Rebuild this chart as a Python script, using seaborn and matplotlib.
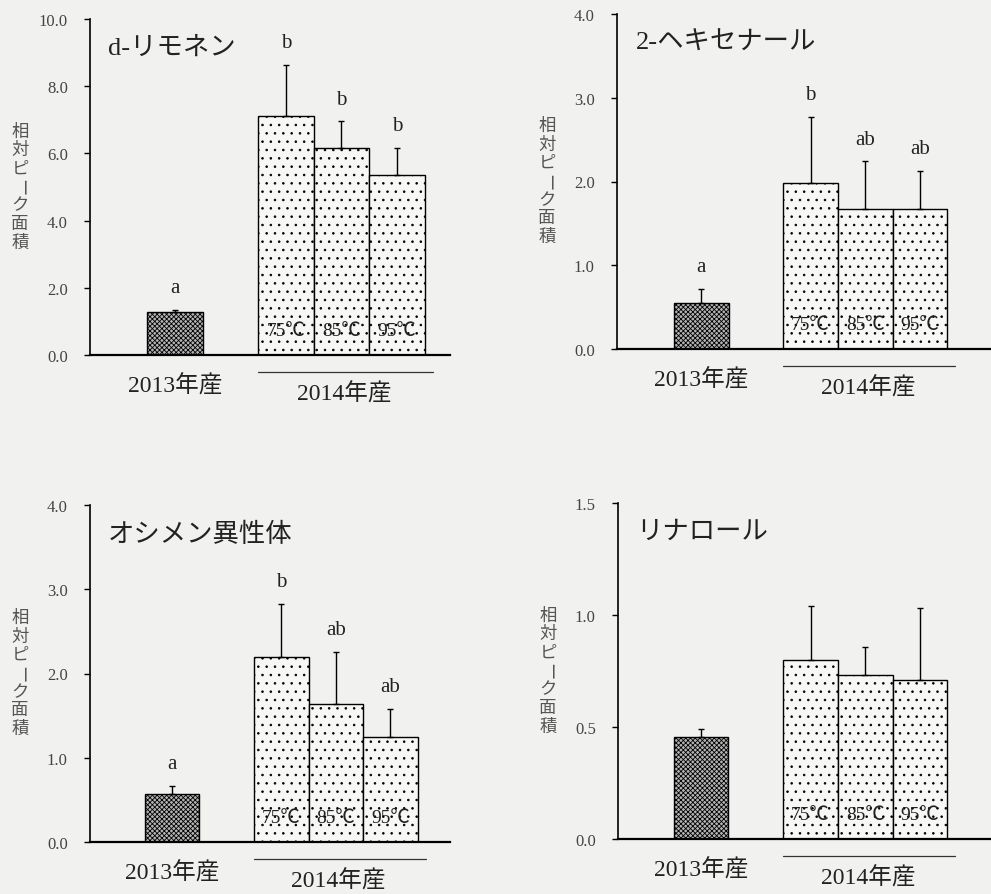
import numpy as np
import pandas as pd
import matplotlib
matplotlib.use('Agg')
import matplotlib.pyplot as plt
import matplotlib.transforms as mtransforms
import seaborn as sns

# --- データ ---
conditions = ['2013年産', '75℃', '85℃', '95℃']
years = ['2013', '2014', '2014', '2014']
order = ['2013年産', ' ', '75℃', '85℃', '95℃']   # ' ' は2013と2014の間の空き

titles = ['d-リモネン', '2-ヘキセナール', 'オシメン異性体', 'リナロール']

limonene_mean = [1.28, 7.10, 6.16, 5.37]
limonene_sd = [0.06, 1.53, 0.79, 0.79]
hexenal_mean = [0.55, 1.98, 1.67, 1.67]
hexenal_sd = [0.17, 0.79, 0.57, 0.46]
ocimene_mean = [0.57, 2.20, 1.64, 1.25]
ocimene_sd = [0.095, 0.63, 0.62, 0.33]
linalool_mean = [0.457, 0.80, 0.73, 0.71]
linalool_sd = [0.033, 0.24, 0.126, 0.32]

limonene_letters = ['a', 'b', 'b', 'b']
hexenal_letters = ['a', 'b', 'ab', 'ab']
ocimene_letters = ['a', 'b', 'ab', 'ab']
linalool_letters = ['', '', '', '']

yticks_list = [[0, 2, 4, 6, 8, 10], [0, 1, 2, 3, 4], [0, 1, 2, 3, 4], [0, 0.5, 1.0, 1.5]]

means = [limonene_mean, hexenal_mean, ocimene_mean, linalool_mean]
sds = [limonene_sd, hexenal_sd, ocimene_sd, linalool_sd]
letters = [limonene_letters, hexenal_letters, ocimene_letters, linalool_letters]

# --- レイアウト (ピクセル: left, top, right, bottom) ---
W, H = 991, 895
boxes = [(90, 20, 450, 356), (617, 15, 991, 350), (90, 506, 450, 843), (618, 504, 991, 840)]
xlims = [(-1.536, 4.96), (-1.54, 5.30), (-1.50, 5.09), (-1.52, 5.30)]

sns.set_theme(style='ticks')
plt.rcParams['font.family'] = ['Liberation Serif', 'Noto Sans CJK JP', 'DejaVu Sans']
plt.rcParams['hatch.linewidth'] = 0.6

bg = '#f1f1ef'
txt = '#222222'
fig = plt.figure(figsize=(W / 100, H / 100), dpi=100, facecolor=bg)

for i in range(4):
    l, t, r, b = boxes[i]
    ax = fig.add_axes([l / W, 1 - b / H, (r - l) / W, (b - t) / H])
    ax.set_facecolor(bg)

    df = pd.DataFrame({'cond': conditions, 'value': means[i], 'year': years})
    sns.barplot(data=df, x='cond', y='value', hue='year', order=order,
                palette={'2013': '#b4b4b4', '2014': '#f7f7f5'}, dodge=False,
                width=1.0, errorbar=None, legend=False, edgecolor='black',
                linewidth=1.0, ax=ax)

    # 棒の中心位置をパッチから取得
    centers = {}
    for p in ax.patches:
        c = p.get_x() + p.get_width() / 2
        idx = int(round(c))
        centers[idx] = c
        if idx == 0:
            p.set_hatch('xxxxxxx')
        else:
            p.set_hatch('..')
    xs = [centers[k] for k in sorted(centers)]

    ax.errorbar(xs, means[i], yerr=[np.zeros(4), sds[i]], fmt='none',
                ecolor='black', elinewidth=1.0, capsize=2.5, capthick=1.0, zorder=3)

    for x, m, s, lab in zip(xs, means[i], sds[i], letters[i]):
        if lab:
            ax.annotate(lab, xy=(x, m + s), xytext=(0, 16), textcoords='offset points',
                        ha='center', va='center', fontsize=15, color=txt)

    trans = mtransforms.blended_transform_factory(ax.transData, ax.transAxes)
    for x, cond in zip(xs[1:], conditions[1:]):
        ax.text(x, 0.072, cond, transform=trans, ha='center', va='center',
                fontsize=14, color=txt, zorder=4)

    # 年産ラベルと2014の下線
    ax.text(xs[0], -0.09, '2013年産', transform=trans, ha='center', va='center',
            fontsize=17, color=txt, clip_on=False)
    ax.text((xs[1] + xs[3]) / 2 + 0.05, -0.115, '2014年産', transform=trans,
            ha='center', va='center', fontsize=17, color=txt, clip_on=False)
    ax.plot([1.5, 4.65], [-0.05, -0.05], transform=trans, color='#333333',
            lw=0.9, clip_on=False)

    ax.text(0.05, 0.915, titles[i], transform=ax.transAxes, ha='left', va='center',
            fontsize=19, color=txt)

    # 縦書きの軸ラベル
    ylab = '相対ピーク面積'
    step = 18.5 / (b - t)
    y0 = 0.5 + step * (len(ylab) - 1) / 2
    xlab = -70 / (r - l)
    for k, ch in enumerate(ylab):
        ax.text(xlab, y0 - k * step, ch, transform=ax.transAxes, ha='center',
                va='center', fontsize=12.5, color='#555555',
                rotation=-90 if ch == 'ー' else 0, clip_on=False)

    ax.set_xlim(*xlims[i])
    ax.set_ylim(0, yticks_list[i][-1])
    ax.set_yticks(yticks_list[i])
    ax.set_yticklabels([f'{v:.1f}' for v in yticks_list[i]])
    ax.set_xticks([])
    ax.set_xlabel('')
    ax.set_ylabel('')
    ax.tick_params(axis='y', direction='out', length=4, width=1.0, pad=12,
                   labelsize=12, labelcolor='#444444', color='black')
    sns.despine(ax=ax)
    ax.spines['left'].set_linewidth(1.2)
    ax.spines['bottom'].set_linewidth(1.6)
    ax.spines['left'].set_color('black')
    ax.spines['bottom'].set_color('black')

fig.savefig('out.png', dpi=100, facecolor=bg)
